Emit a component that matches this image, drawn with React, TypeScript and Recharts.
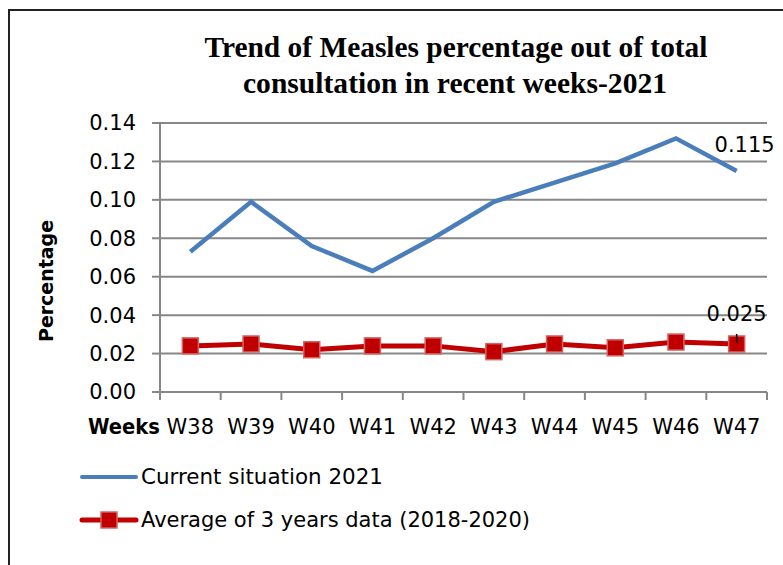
import { LineChart, Line, XAxis, YAxis, CartesianGrid, LabelList } from "recharts";

const weeks = ["W38", "W39", "W40", "W41", "W42", "W43", "W44", "W45", "W46", "W47"];
const current2021 = [0.073, 0.099, 0.076, 0.063, 0.08, 0.099, 0.109, 0.119, 0.132, 0.115];
const average3y = [0.024, 0.025, 0.022, 0.024, 0.024, 0.021, 0.025, 0.023, 0.026, 0.025];
const yTicks = [0, 0.02, 0.04, 0.06, 0.08, 0.1, 0.12, 0.14];
const weekBounds = [0, 1, 2, 3, 4, 5, 6, 7, 8, 9, 10];

const seriesNames = ["Current situation 2021", "Average of 3 years data (2018-2020)"];

const data = weeks.map((week, i) => ({
  week,
  slot: i,
  current: current2021[i],
  average: average3y[i],
}));

const BLUE = "#4A7EBB";
const RED = "#C00000";
const GRID = "#878787";
const FONT = "'DejaVu Sans', sans-serif";

// square marker like excel's
const SquareDot = (props: any) => {
  const { cx, cy, index } = props;
  if (cx == null || cy == null) return null;
  return (
    <rect
      key={`sq-${index}`}
      x={cx - 8}
      y={cy - 8}
      width={16}
      height={16}
      fill={RED}
      stroke="#D46464"
      strokeWidth={1.5}
    />
  );
};

const lastIdx = weeks.length - 1;

const CurrentLabel = (props: any) => {
  const { x, y, value, index } = props;
  if (index !== lastIdx) return null;
  return (
    <text x={x + 8} y={y - 26} textAnchor="middle" dominantBaseline="central" fontFamily={FONT} fontSize={21} fill="#000">
      {String(value)}
    </text>
  );
};

const AverageLabel = (props: any) => {
  const { x, y, value, index } = props;
  if (index !== lastIdx) return null;
  return (
    <g>
      <line x1={x} x2={x} y1={y - 10} y2={y - 1} stroke="#000" strokeWidth={1.5} />
      <text x={x} y={y - 30} textAnchor="middle" dominantBaseline="central" fontFamily={FONT} fontSize={21} fill="#000">
        {String(value)}
      </text>
    </g>
  );
};

// tick marks only, labels come from the category axis
const NoLabel = () => <g />;

export default function App() {
  return (
    <div style={{ position: "absolute", left: 0, top: 0, width: 783, height: 565, background: "#fff" }}>
      {/* frame, title, axis titles, legend */}
      <svg width={783} height={565} style={{ position: "absolute", left: 0, top: 0 }}>
        <rect x={9} y={10} width={800} height={600} fill="none" stroke="#222" strokeWidth={2} />
        <text x={456} y={57} textAnchor="middle" fontFamily="'Liberation Serif', serif" fontWeight="bold" fontSize={29} textLength={503} lengthAdjust="spacingAndGlyphs">
          Trend of Measles percentage out of total
        </text>
        <text x={455} y={93} textAnchor="middle" fontFamily="'Liberation Serif', serif" fontWeight="bold" fontSize={29} textLength={424} lengthAdjust="spacingAndGlyphs">
          consultation in recent weeks-2021
        </text>
        <text
          x={46}
          y={281}
          transform="rotate(-90 46 281)"
          textAnchor="middle"
          dominantBaseline="central"
          fontFamily={FONT}
          fontWeight="bold"
          fontSize={20}
          textLength={122}
          lengthAdjust="spacingAndGlyphs"
        >
          Percentage
        </text>
        <text x={88} y={434} fontFamily={FONT} fontWeight="bold" fontSize={21} textLength={72} lengthAdjust="spacingAndGlyphs">
          Weeks
        </text>

        <line x1={82} x2={136} y1={477} y2={477} stroke={BLUE} strokeWidth={4} strokeLinecap="round" />
        <text x={141} y={477} dominantBaseline="central" fontFamily={FONT} fontSize={21} fill="#000" textLength={242} lengthAdjust="spacingAndGlyphs">
          {seriesNames[0]}
        </text>
        <line x1={82} x2={136} y1={520} y2={520} stroke={RED} strokeWidth={5} strokeLinecap="round" />
        <rect x={101} y={512} width={16} height={16} fill={RED} stroke="#D46464" strokeWidth={1.5} />
        <text x={141} y={520} dominantBaseline="central" fontFamily={FONT} fontSize={21} fill="#000" textLength={389} lengthAdjust="spacingAndGlyphs">
          {seriesNames[1]}
        </text>
      </svg>

      <div style={{ position: "absolute", left: 0, top: 0 }}>
        <LineChart width={783} height={565} data={data} margin={{ top: 123, right: 16, bottom: 132, left: 100 }}>
          <CartesianGrid horizontal vertical={false} stroke={GRID} strokeWidth={2} xAxisId="bounds" />
          <XAxis
            xAxisId="bounds"
            dataKey="slot"
            type="number"
            domain={[0, 10]}
            ticks={weekBounds}
            allowDataOverflow
            height={1}
            tick={NoLabel}
            tickSize={8}
            stroke={GRID}
            strokeWidth={2}
          />
          <XAxis
            xAxisId="cat"
            dataKey="week"
            scale="band"
            height={40}
            axisLine={false}
            tickLine={false}
            tickSize={8}
            tickMargin={18}
            interval={0}
            tick={{ fontFamily: FONT, fontSize: 21, fill: "#000" }}
          />
          <YAxis
            width={60}
            domain={[0, 0.14]}
            ticks={yTicks}
            interval={0}
            tickFormatter={(v: number) => v.toFixed(2)}
            tickSize={8}
            tickMargin={16}
            stroke={GRID}
            strokeWidth={2}
            tick={{ fontFamily: FONT, fontSize: 21, fill: "#000" }}
          />
          <Line
            xAxisId="cat"
            type="linear"
            dataKey="current"
            name={seriesNames[0]}
            stroke={BLUE}
            strokeWidth={4.5}
            dot={false}
            isAnimationActive={false}
          >
            <LabelList dataKey="current" content={CurrentLabel} />
          </Line>
          <Line
            xAxisId="cat"
            type="linear"
            dataKey="average"
            name={seriesNames[1]}
            stroke={RED}
            strokeWidth={5}
            dot={SquareDot}
            isAnimationActive={false}
          >
            <LabelList dataKey="average" content={AverageLabel} />
          </Line>
        </LineChart>
      </div>
    </div>
  );
}
